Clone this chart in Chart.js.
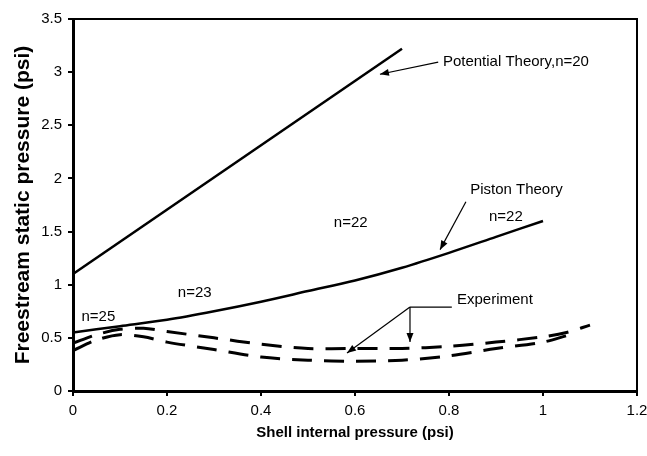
<!DOCTYPE html>
<html lang="en">
  <head>
    <meta charset="UTF-8">
    <title>Freestream static pressure vs shell internal pressure</title>
    <script src="https://cdn.jsdelivr.net/npm/chart.js@4.4.1/dist/chart.umd.min.js"></script>
    <style>
      html, body { margin: 0; padding: 0; background: #fff; }
    </style>
  </head>
  <body>
    <canvas id="chart" width="647" height="456"></canvas>
    <script>
    // values (psi)
    const potentialX = [0, 0.7];
    const potentialY = [1.1, 3.22];

    const pistonX = [0, 0.1, 0.2, 0.3, 0.4, 0.5, 0.6, 0.7, 0.8, 0.9, 1.0];
    const pistonY = [0.55, 0.61, 0.67, 0.75, 0.84, 0.94, 1.04, 1.16, 1.30, 1.45, 1.60];

    const expUpperX = [0, 0.05, 0.1, 0.15, 0.2, 0.3, 0.4, 0.5, 0.6, 0.7, 0.8, 0.9, 1.0, 1.05, 1.1];
    const expUpperY = [0.45, 0.53, 0.58, 0.59, 0.56, 0.50, 0.44, 0.40, 0.40, 0.40, 0.42, 0.46, 0.51, 0.55, 0.62];

    const expLowerX = [0, 0.05, 0.1, 0.15, 0.2, 0.3, 0.4, 0.5, 0.6, 0.7, 0.8, 0.9, 1.0, 1.05];
    const expLowerY = [0.38, 0.48, 0.53, 0.51, 0.46, 0.39, 0.32, 0.29, 0.28, 0.29, 0.33, 0.40, 0.46, 0.52];

    const xTickVals = [0, 0.2, 0.4, 0.6, 0.8, 1, 1.2];
    const yTickVals = [0, 0.5, 1, 1.5, 2, 2.5, 3, 3.5];

    // labels and arrows, placed in data units
    const notes = [
      { text: 'Potential Theory,n=20', x: 0.787, y: 3.10 },
      { text: 'Piston Theory', x: 0.845, y: 1.89 },
      { text: 'n=22', x: 0.885, y: 1.64 },
      { text: 'n=22', x: 0.555, y: 1.58 },
      { text: 'n=23', x: 0.223, y: 0.92 },
      { text: 'n=25', x: 0.018, y: 0.70 },
      { text: 'Experiment', x: 0.817, y: 0.856 }
    ];
    const arrows = [
      { from: [0.777, 3.095], to: [0.653, 2.98], head: true },
      { from: [0.836, 1.78], to: [0.781, 1.33], head: true },
      { from: [0.806, 0.79], to: [0.717, 0.79], head: false },
      { from: [0.717, 0.79], to: [0.583, 0.357], head: true },
      { from: [0.717, 0.79], to: [0.717, 0.46], head: true }
    ];

    const FONT = '"Liberation Sans", Arial, sans-serif';

    function pts(xs, ys) {
      return xs.map((x, i) => ({ x: x, y: ys[i] }));
    }

    const notesPlugin = {
      id: 'notes',
      afterDatasetsDraw(chart) {
        const ctx = chart.ctx;
        const sx = chart.scales.x, sy = chart.scales.y;
        const a = chart.chartArea;
        ctx.save();
        // top and right frame of the plot box
        ctx.strokeStyle = '#000';
        ctx.lineWidth = 2;
        ctx.beginPath();
        ctx.moveTo(a.left, a.top);
        ctx.lineTo(a.right, a.top);
        ctx.lineTo(a.right, a.bottom);
        ctx.stroke();

        ctx.fillStyle = '#000';
        ctx.font = '15px ' + FONT;
        ctx.textAlign = 'left';
        ctx.textBaseline = 'middle';
        notes.forEach(n => {
          ctx.fillText(n.text, sx.getPixelForValue(n.x), sy.getPixelForValue(n.y));
        });

        ctx.lineWidth = 1.2;
        arrows.forEach(ar => {
          const x1 = sx.getPixelForValue(ar.from[0]), y1 = sy.getPixelForValue(ar.from[1]);
          const x2 = sx.getPixelForValue(ar.to[0]), y2 = sy.getPixelForValue(ar.to[1]);
          ctx.beginPath();
          ctx.moveTo(x1, y1);
          ctx.lineTo(x2, y2);
          ctx.stroke();
          if (ar.head) {
            const ang = Math.atan2(y2 - y1, x2 - x1);
            const len = 9, wid = 3.5;
            ctx.beginPath();
            ctx.moveTo(x2, y2);
            ctx.lineTo(x2 - len * Math.cos(ang) + wid * Math.sin(ang), y2 - len * Math.sin(ang) - wid * Math.cos(ang));
            ctx.lineTo(x2 - len * Math.cos(ang) - wid * Math.sin(ang), y2 - len * Math.sin(ang) + wid * Math.cos(ang));
            ctx.closePath();
            ctx.fill();
          }
        });
        ctx.restore();
      }
    };

    const ctx = document.getElementById('chart').getContext('2d');
    const myChart = new Chart(ctx, {
      type: 'scatter',
      data: {
        datasets: [
          {
            label: 'Potential Theory',
            data: pts(potentialX, potentialY),
            showLine: true,
            borderColor: '#000',
            borderWidth: 2.5,
            pointRadius: 0
          },
          {
            label: 'Piston Theory',
            data: pts(pistonX, pistonY),
            showLine: true,
            borderColor: '#000',
            borderWidth: 2.5,
            pointRadius: 0,
            tension: 0.3
          },
          {
            label: 'Experiment 1',
            data: pts(expUpperX, expUpperY),
            showLine: true,
            borderColor: '#000',
            borderWidth: 3,
            borderDash: [20, 12],
            pointRadius: 0,
            tension: 0.3
          },
          {
            label: 'Experiment 2',
            data: pts(expLowerX, expLowerY),
            showLine: true,
            borderColor: '#000',
            borderWidth: 3,
            borderDash: [20, 12],
            pointRadius: 0,
            tension: 0.3
          }
        ]
      },
      options: {
        responsive: false,
        animation: false,
        layout: { padding: { left: 0, right: 10, top: 19, bottom: 0 } },
        plugins: {
          legend: { display: false },
          tooltip: { enabled: false }
        },
        scales: {
          x: {
            type: 'linear',
            min: 0,
            max: 1.2,
            afterBuildTicks: s => { s.ticks = xTickVals.map(v => ({ value: v })); },
            afterFit: s => { s.height = 65; s.paddingLeft = 0; s.paddingRight = 0; },
            ticks: {
              color: '#000',
              font: { family: FONT, size: 15 },
              padding: 6,
              maxRotation: 0,
              callback: v => String(v)
            },
            grid: { drawOnChartArea: false, drawTicks: true, tickLength: 5, color: '#000', lineWidth: 2 },
            border: { display: true, color: '#000', width: 3 },
            title: {
              display: true,
              text: 'Shell internal pressure (psi)',
              color: '#000',
              font: { family: FONT, size: 15, weight: 'bold' },
              padding: { top: 0, bottom: 14 }
            }
          },
          y: {
            type: 'linear',
            min: 0,
            max: 3.5,
            afterBuildTicks: s => { s.ticks = yTickVals.map(v => ({ value: v })); },
            afterFit: s => { s.width = 73; s.paddingTop = 0; s.paddingBottom = 0; },
            ticks: {
              color: '#000',
              font: { family: FONT, size: 15 },
              padding: 6,
              callback: v => String(v)
            },
            grid: { drawOnChartArea: false, drawTicks: true, tickLength: 5, color: '#000', lineWidth: 2 },
            border: { display: true, color: '#000', width: 3 },
            title: {
              display: true,
              text: 'Freestream static pressure (psi)',
              color: '#000',
              font: { family: FONT, size: 21, weight: 'bold' },
              padding: { top: 11, bottom: 0 }
            }
          }
        }
      },
      plugins: [notesPlugin]
    });
    </script>
  </body>
</html>
